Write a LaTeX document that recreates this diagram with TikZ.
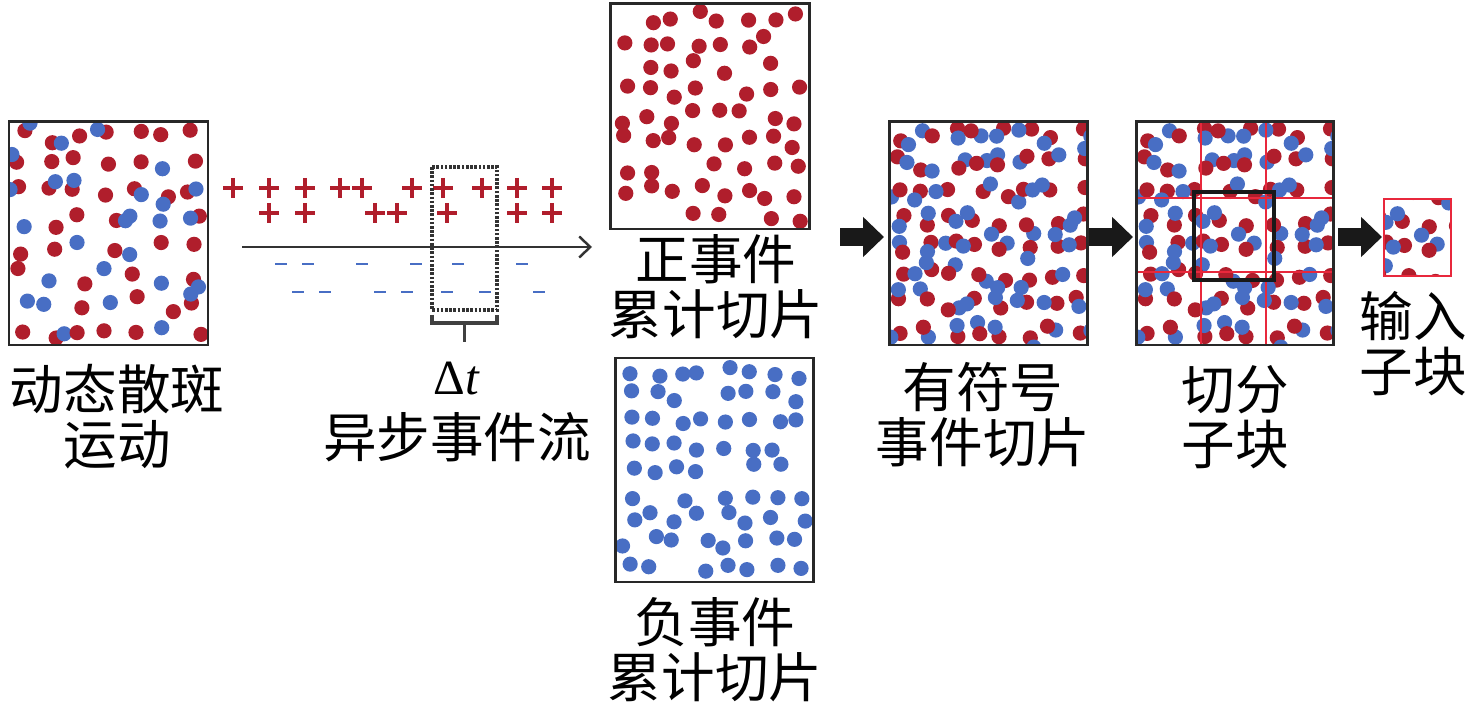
\documentclass[tikz,border=0pt]{standalone}
\usepackage{fontspec}
\newfontfamily\cjk{Noto Sans CJK SC}
\newfontfamily\tim{Liberation Serif}
\usetikzlibrary{arrows.meta}

\definecolor{evred}{RGB}{176,30,44}
\definecolor{evblue}{RGB}{72,110,196}
\definecolor{cutred}{RGB}{232,40,60}
\definecolor{framegray}{RGB}{40,40,40}

\def\dotr{0.152cm}

\tikzset{
  panel/.style={draw=framegray, line width=1.7pt},
  lbl/.style={font=\cjk\fontsize{30.5}{31.3}\selectfont, align=center, inner sep=0pt},
  plusmark/.style={draw=evred, line width=2.3pt},
  minusmark/.style={draw=evblue, line width=1.7pt},
  axisline/.style={draw=black!80, line width=1.4pt, -{Straight Barb[length=0.22cm,width=0.42cm]}},
  blockarrow/.style={draw=black!90, line width=0.36cm, -{Triangle[length=0.42cm,width=0.78cm]}},
}

% red dots, positive slice
\newcommand\posdots{%
  \pgfmathsetseed{3}%
  \foreach \i in {0,...,7}{
    \foreach \j in {0,...,8}{
      \pgfmathsetmacro\px{13+\i*24.5+rnd*14-7}
      \pgfmathsetmacro\py{13+\j*25+rnd*14-7}
      \pgfmathsetmacro\keep{rnd}
      \ifdim\keep pt<0.9pt \fill[evred] (\px,\py) circle (\dotr); \fi
    }}}

% blue dots, negative slice
\newcommand\negdots{%
  \pgfmathsetseed{8}%
  \foreach \i in {0,...,7}{
    \foreach \j in {0,...,8}{
      \pgfmathsetmacro\px{14+\i*24.5+rnd*14-7}
      \pgfmathsetmacro\py{14+\j*24.5+rnd*14-7}
      \pgfmathsetmacro\keep{rnd}
      \ifdim\keep pt<0.9pt \fill[evblue] (\px,\py) circle (\dotr); \fi
    }}}

% red/blue pairs, signed slice
\newcommand\sigdots{%
  \pgfmathsetseed{5}%
  \foreach \i in {0,...,7}{
    \foreach \j in {0,...,7}{
      \pgfmathsetmacro\px{12+\i*25.5+rnd*14-7}
      \pgfmathsetmacro\py{13+\j*28+rnd*14-7}
      \pgfmathsetmacro\ang{rnd*360}
      \pgfmathsetmacro\qx{\px+(8+rnd*5)*cos(\ang)}
      \pgfmathsetmacro\qy{\py+(8+rnd*5)*sin(\ang)}
      \pgfmathsetmacro\ord{rnd}
      \ifdim\ord pt<0.4pt
        \fill[evblue] (\qx,\qy) circle (\dotr);
        \fill[evred] (\px,\py) circle (\dotr);
      \else
        \fill[evred] (\px,\py) circle (\dotr);
        \fill[evblue] (\qx,\qy) circle (\dotr);
      \fi
    }}}

% mixed dots, speckle motion
\newcommand\motdots{%
  \pgfmathsetseed{21}%
  \foreach \i in {0,...,6}{
    \foreach \j in {0,...,7}{
      \pgfmathsetmacro\px{14+\i*28.5+rnd*16-8}
      \pgfmathsetmacro\py{14+\j*28+rnd*16-8}
      \pgfmathsetmacro\ang{rnd*360}
      \pgfmathsetmacro\qx{\px+9*cos(\ang)}
      \pgfmathsetmacro\qy{\py+9*sin(\ang)}
      \pgfmathsetmacro\kind{rnd}
      \ifdim\kind pt<0.48pt \fill[evred] (\px,\py) circle (\dotr);
      \else\ifdim\kind pt<0.72pt \fill[evblue] (\px,\py) circle (\dotr);
      \else
        \fill[evred] (\px,\py) circle (\dotr);
        \fill[evblue] (\qx,\qy) circle (\dotr);
      \fi\fi
    }}}

\begin{document}
\begin{tikzpicture}[x=0.02cm, y=-0.02cm]
\useasboundingbox (0,0) rectangle (1476,715);

% speckle motion
\begin{scope}
\clip (9,122) rectangle (208,345);
\begin{scope}[shift={(9,122)}] \motdots \end{scope}
\end{scope}
\draw[panel] (9,122) rectangle (208,345);
\node[lbl] (motlbl) at (117,417) {动态散斑\\运动};

% event stream
\foreach \x in {233,269,305,340,362,412,443,482,517,552}
  \draw[plusmark] (\x-10,188) -- (\x+10,188) (\x,178) -- (\x,198);
\foreach \x in {269,305,375,397,447,517,552}
  \draw[plusmark] (\x-10,213) -- (\x+10,213) (\x,203) -- (\x,223);
\foreach \x in {281,308,362,416,458,522}
  \draw[minusmark] (\x-6,264) -- (\x+6,264);
\foreach \x in {298,325,380,407,447,485,539}
  \draw[minusmark] (\x-6,292) -- (\x+6,292);
\coordinate (axs) at (242,247);
\coordinate (axe) at (592,247);
\draw[axisline] (axs) -- (axe);
\draw[black!80, line width=2.1pt, dash pattern=on 1.5pt off 0.9pt] (432,167) rectangle (497,310);
\draw[black!75, line width=1.8pt] (432,315) -- (432,323) -- (497,323) -- (497,315)
  (464.5,323) -- (464.5,342);
\node[font=\tim\fontsize{28}{32}\selectfont, inner sep=0pt] (dt) at (457,379) {Δ\textit{t}};
\node[lbl] (streamlbl) at (457,437) {异步事件流};

% positive / negative slices
\begin{scope}
\clip (610,4) rectangle (809,229);
\begin{scope}[shift={(610,4)}] \posdots \end{scope}
\end{scope}
\draw[panel] (610,4) rectangle (809,229);
\node[lbl] (poslbl) at (716,287) {正事件\\累计切片};

\begin{scope}
\clip (615,358) rectangle (813,582);
\begin{scope}[shift={(615,358)}] \negdots \end{scope}
\end{scope}
\draw[panel] (615,358) rectangle (813,582);
\node[lbl] (neglbl) at (715,650) {负事件\\累计切片};

% signed slice
\coordinate (a1s) at (840,237);
\coordinate (a1e) at (884,237);
\draw[blockarrow] (a1s) -- (a1e);
\begin{scope}
\clip (889,122) rectangle (1087,345);
\begin{scope}[shift={(889,122)}] \sigdots \end{scope}
\end{scope}
\draw[panel] (889,122) rectangle (1087,345);
\node[lbl] (siglbl) at (983,415) {有符号\\事件切片};

% split into blocks
\coordinate (a2s) at (1089,237);
\coordinate (a2e) at (1133,237);
\draw[blockarrow] (a2s) -- (a2e);
\begin{scope}
\clip (1136,122) rectangle (1333,345);
\begin{scope}[shift={(1136,122)}] \sigdots \end{scope}
\end{scope}
\draw[cutred, line width=1.2pt] (1201,122) -- (1201,345) (1266,122) -- (1266,345)
  (1136,198) -- (1333,198) (1136,272) -- (1333,272);
\draw[black!90, line width=2.3pt] (1194,192) rectangle (1274,280);
\draw[panel] (1136,122) rectangle (1333,345);
\node[lbl] (splitlbl) at (1235,417) {切分\\子块};

% input block
\coordinate (a3s) at (1338,237);
\coordinate (a3e) at (1382,237);
\draw[blockarrow] (a3s) -- (a3e);
\begin{scope}
\clip (1384,199) rectangle (1451,276);
\begin{scope}[shift={(1319,123)}] \sigdots \end{scope}
\end{scope}
\draw[cutred, line width=1.6pt] (1384,199) rectangle (1451,276);
\node[lbl] (inlbl) at (1413,344) {输入\\子块};
\end{tikzpicture}
\end{document}
